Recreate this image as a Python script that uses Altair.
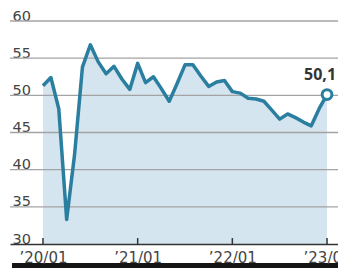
import json
import altair as alt
import pandas as pd

# month index 0 = 2020/01 ... 36 = 2023/01
months = list(range(37))
values = [51.3, 52.4, 48.2, 33.3, 42.0, 53.8, 56.8, 54.5, 52.9, 53.9, 52.2, 50.8,
          54.3, 51.7, 52.5, 50.9, 49.2, 51.6, 54.1, 54.1, 52.6, 51.2, 51.8, 52.0,
          50.5, 50.3, 49.6, 49.5, 49.2, 48.0, 46.8, 47.5, 47.0, 46.4, 45.9, 48.2,
          50.1]
tick_pos = [0, 12, 24, 36]
tick_labels = ["\u201920/01", "\u201921/01", "\u201922/01", "\u201923/01"]
y_ticks = [30, 35, 40, 45, 50, 55, 60]
grid_vals = [35, 40, 45, 50, 55, 60]

LINE = "#2a7e9f"
FILL = "#d5e5ef"

df = pd.DataFrame({"t": months, "v": values})
last = pd.DataFrame({"t": [months[-1]], "v": [values[-1]],
                     "lab": [f"{values[-1]:.1f}".replace(".", ",")]})
ticks_df = pd.DataFrame({"t": tick_pos, "v": [30] * 4, "y1": [30.8] * 4})
grid_df = pd.DataFrame({"v": grid_vals})
bar_df = pd.DataFrame({"k": [0]})

label_expr = json.dumps(tick_labels) + "[round(datum.value/12)]"

W, H = 328, 223
xs = alt.Scale(domain=[-4.18, 37.39], nice=False, zero=False)
ys = alt.Scale(domain=[30, 60], nice=False, zero=False)

x_axis = alt.Axis(values=tick_pos, labelExpr=label_expr, grid=False, ticks=False,
                  tickSize=0, labelPadding=6, labelFont="DejaVu Sans", labelFontSize=15,
                  labelColor="#444444", domainColor="#333333", domainWidth=1.5,
                  labelOverlap=False, labelFlush=False, labelBound=False, title=None,
                  zindex=2)
y_axis = alt.Axis(values=y_ticks, tickCount=7, grid=False, domain=False, ticks=False,
                  tickSize=0, labelAlign="left", labelPadding=-2, labelOffset=-1,
                  labelBaseline="alphabetic", labelOverlap=False, labelFlush=False,
                  labelBound=False, labelFont="DejaVu Sans", labelFontSize=14.5,
                  labelColor="#444444", title=None)

X = alt.X("t:Q", scale=xs, axis=x_axis)
Y = alt.Y("v:Q", scale=ys, axis=y_axis)

base = alt.Chart(df)

area = base.mark_area(color=FILL, opacity=1).encode(x=X, y=Y, y2=alt.datum(30))

grid = alt.Chart(grid_df).mark_rule(color="#a3a3a3", strokeWidth=1.4).encode(
    x=alt.value(0), x2=alt.value(W), y=Y,
)

line = base.mark_line(color=LINE, strokeWidth=3.5, strokeJoin="round").encode(x=X, y=Y)

ticks = alt.Chart(ticks_df).mark_rule(color="#333333", strokeWidth=1.5).encode(
    x=X, y=Y, y2="y1:Q",
)

point = alt.Chart(last).mark_point(shape="circle", filled=True, fill="white",
                                   stroke=LINE, strokeWidth=3, size=95, opacity=1).encode(
    x=X, y=Y,
)

label = alt.Chart(last).mark_text(font="Open Sans", fontWeight="bold", fontSize=16,
                                  color="#333333", dy=-15, dx=-7, baseline="alphabetic",
                                  align="center").encode(
    x=X, y=Y, text="lab:N",
)

bar = alt.Chart(bar_df).mark_rule(color="#151515", strokeWidth=5).encode(
    x=alt.value(2), x2=alt.value(W), y=alt.value(244.5),
)

chart = alt.layer(area, grid, ticks, line, point, label, bar).properties(
    width=W, height=H,
    autosize=alt.AutoSizeParams(type="none"),
    padding={"left": 2, "top": 13, "right": 0, "bottom": 24},
    background="white",
).configure_view(stroke=None)

chart.save("out.html", embed_options={"renderer": "svg", "actions": False})
